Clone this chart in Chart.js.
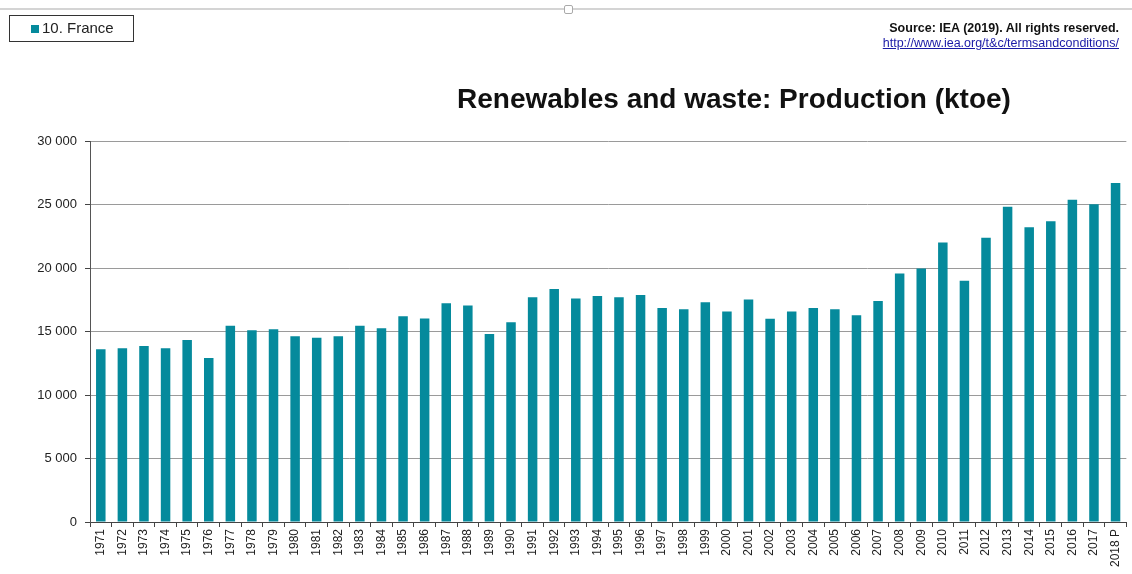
<!DOCTYPE html>
<html>
<head>
<meta charset="utf-8">
<script src="https://cdn.jsdelivr.net/npm/chart.js@4/dist/chart.umd.min.js"></script>
<style>
    body { margin: 0; background: #fff; font-family: Arial, "Liberation Sans", sans-serif; }
    #wrap { position: relative; width: 1132px; height: 574px; overflow: hidden; }
    #chart { position: absolute; left: 0; top: 0; }
    .topline { position: absolute; left: 0; top: 8px; width: 1132px; height: 0; border-top: 2px solid #d4d4d4; }
    .handle { position: absolute; left: 564px; top: 5px; width: 7px; height: 7px; border: 1px solid #aaa; background: #fff; border-radius: 2px; }
    .legend { position: absolute; left: 9px; top: 15px; width: 123px; height: 25px; border: 1px solid #333; font-size: 15px; color: #222; }
    .legend span.sq { position: absolute; left: 21px; top: 9px; width: 8px; height: 8px; background: #058a9c; }
    .legend span.txt { position: absolute; left: 32px; top: 3px; }
    .source { position: absolute; right: 13px; top: 21px; text-align: right; font-size: 12.5px; line-height: 15px; }
    .source b { color: #111; }
    .source a { color: #1a1aa6; text-decoration: underline; }
    .title { position: absolute; left: 457px; top: 83px; font-size: 28px; font-weight: bold; color: #111; white-space: nowrap; }
</style>
</head>
<body>
<div id="wrap">
    <canvas id="chart" width="1132" height="574"></canvas>
    <div class="topline"></div>
    <div class="handle"></div>
    <div class="legend"><span class="sq"></span><span class="txt">10. France</span></div>
    <div class="source"><b>Source: IEA (2019). All rights reserved.</b><br><a href="#">http://www.iea.org/t&amp;c/termsandconditions/</a></div>
    <div class="title">Renewables and waste: Production (ktoe)</div>
</div>
<script>
const years = [
    "1971", "1972", "1973", "1974", "1975", "1976", "1977", "1978", "1979", "1980",
    "1981", "1982", "1983", "1984", "1985", "1986", "1987", "1988", "1989", "1990",
    "1991", "1992", "1993", "1994", "1995", "1996", "1997", "1998", "1999", "2000",
    "2001", "2002", "2003", "2004", "2005", "2006", "2007", "2008", "2009", "2010",
    "2011", "2012", "2013", "2014", "2015", "2016", "2017", "2018 P"
];

// France, ktoe
const production = [
    13600, 13680, 13860, 13680, 14330, 12910, 15460, 15090, 15170, 14620,
    14510, 14620, 15460, 15250, 16200, 16030, 17220, 17050, 14800, 15720,
    17700, 18350, 17600, 17800, 17700, 17870, 16850, 16760, 17310, 16570,
    17520, 16000, 16580, 16850, 16750, 16280, 17400, 19560, 19970, 22000,
    19000, 22380, 24820, 23200, 23690, 25380, 25010, 26700
];

const yTicks = [0, 5000, 10000, 15000, 20000, 25000, 30000];

const barColor = "#058a9c";

function spaced(v) {
    return String(v).replace(/\B(?=(\d{3})+(?!\d))/g, " ");
}

new Chart(document.getElementById("chart"), {
    type: "bar",
    data: {
        labels: years,
        datasets: [{
            label: "10. France",
            data: production,
            backgroundColor: barColor,
            barPercentage: 0.44,
            categoryPercentage: 1
        }]
    },
    options: {
        responsive: false,
        animation: false,
        layout: {
            padding: { top: 141, right: 4, left: 0, bottom: 0 }
        },
        plugins: {
            legend: { display: false },
            tooltip: { enabled: false }
        },
        scales: {
            x: {
                offset: true,
                afterFit: scale => { scale.height = 52; },
                grid: {
                    offset: true,
                    drawOnChartArea: false,
                    drawTicks: true,
                    tickLength: 5,
                    color: "#444"
                },
                border: { color: "#444", width: 1 },
                ticks: {
                    autoSkip: false,
                    maxRotation: 90,
                    minRotation: 90,
                    padding: 2,
                    color: "#222",
                    font: { family: "Arial, 'Liberation Sans'", size: 12 }
                }
            },
            y: {
                min: 0,
                max: 30000,
                afterFit: scale => { scale.width = 90; },
                afterBuildTicks: scale => {
                    scale.ticks = yTicks.map(v => ({ value: v }));
                },
                grid: {
                    color: "#9a9a9a",
                    tickLength: 5,
                    tickColor: "#444"
                },
                border: { color: "#555", width: 1 },
                ticks: {
                    padding: 8,
                    color: "#222",
                    font: { family: "Arial, 'Liberation Sans'", size: 13 },
                    callback: v => spaced(v)
                }
            }
        }
    }
});
</script>
</body>
</html>
